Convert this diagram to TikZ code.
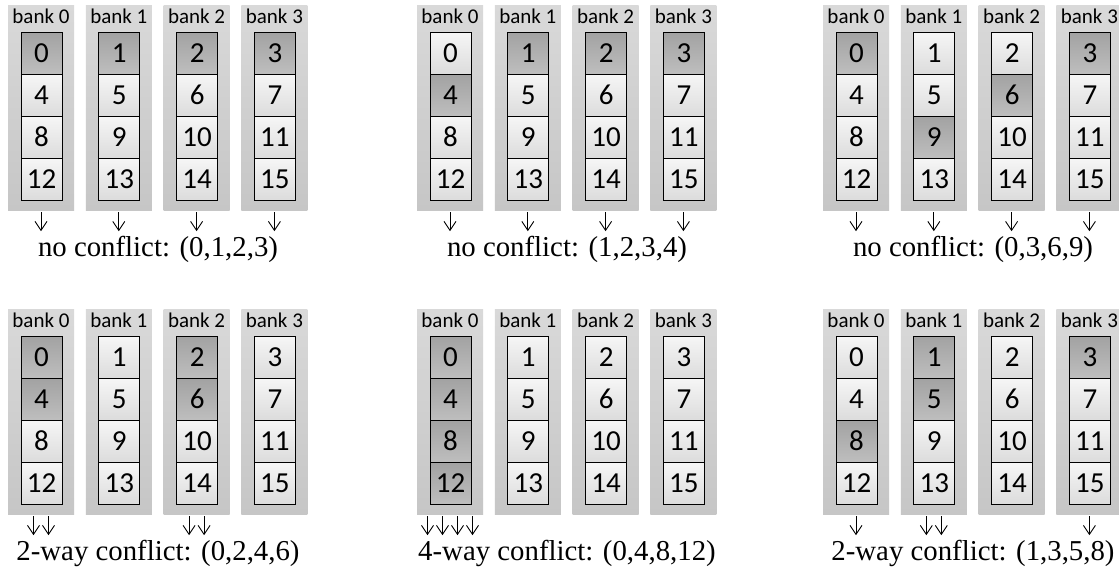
\documentclass[tikz,border=0pt]{standalone}
\usepackage{fontspec}
\setmainfont{Liberation Serif}
\newfontfamily\cellfont{Carlito}
\usetikzlibrary{arrows.meta}

\definecolor{bankTop}{HTML}{D9D9D9}
\definecolor{bankBot}{HTML}{C6C6C6}
\definecolor{cellTop}{HTML}{F6F6F6}
\definecolor{cellBot}{HTML}{DCDCDC}
\definecolor{hotTop}{HTML}{A2A2A2}
\definecolor{hotBot}{HTML}{BEBEBE}

\tikzset{
  bankbg/.style={rectangle, draw=none, inner sep=0pt,
    minimum width=66pt, minimum height=205pt,
    top color=bankTop, bottom color=bankBot},
  banklabel/.style={anchor=base, inner sep=0pt,
    font=\cellfont\fontsize{21}{24}\selectfont},
  cell/.style={rectangle, draw=black, line width=1pt, inner sep=0pt,
    minimum width=41pt, minimum height=42pt,
    font=\cellfont\fontsize{29}{32}\selectfont},
  plain/.style={top color=cellTop, bottom color=cellBot},
  hot/.style={top color=hotTop, bottom color=hotBot},
  access/.style={-{Straight Barb[length=9pt,width=12pt]}, line width=0.9pt},
  caption/.style={anchor=base, inner sep=0pt,
    font=\fontsize{28.8}{32}\selectfont},
}

% \setcelltone{n}{list}: picks the 'hot' style when cell n is in the list
\makeatletter
\newcommand\setcelltone[2]{%
  \edef\@tempa{\noexpand\in@{,#1,}{,#2,}}\@tempa
  \ifin@\def\celltone{hot}\else\def\celltone{plain}\fi}
\makeatother

% \drawpanel{name}{left}{top}{accessed cells}{bank/offset arrows}{caption}
\newcommand\drawpanel[6]{%
  \foreach \b in {0,...,3}{%
    \node[bankbg] (#1-bank\b) at ({#2+77.8*\b+33}, {-(#3+102.5)}) {};
    \node[banklabel] (#1-label\b) at ({#2+77.8*\b+33}, {-(#3+18)}) {bank \b};
    \foreach \r in {0,...,3}{%
      \pgfmathtruncatemacro\n{4*\r+\b}%
      \setcelltone{\n}{#4}%
      \node[cell,\celltone] (#1-c\n) at ({#2+77.8*\b+33.5}, {-(#3+48+42*\r)}) {\n};
    }
  }
  \foreach \b/\o [count=\i] in {#5}{%
    \coordinate (#1-from\i) at ([xshift=\o pt, yshift=-2pt]#1-bank\b.south);
    \coordinate (#1-to\i) at ([xshift=\o pt, yshift=-21pt]#1-bank\b.south);
    \draw[access] (#1-from\i) -- (#1-to\i);
  }
  \node[caption] (#1-cap) at ({#2+150}, {-(#3+251)}) {#6};
}

\begin{document}
\begin{tikzpicture}[x=1pt, y=1pt]
  \useasboundingbox (0,0) rectangle (1119,-571);
  \fill[white] (0,0) rectangle (1119,-571);

  % conflict-free access patterns
  \drawpanel{a}{8}{5}{0,1,2,3}{0/0,1/0,2/0,3/0}{no conflict: (0,1,2,3)}
  \drawpanel{b}{417}{5}{1,2,3,4}{0/0,1/0,2/0,3/0}{no conflict: (1,2,3,4)}
  \drawpanel{c}{823}{5}{0,3,6,9}{0/0,1/0,2/0,3/0}{no conflict: (0,3,6,9)}

  % access patterns with bank conflicts
  \drawpanel{d}{8}{309}{0,2,4,6}{0/-7.5,0/7.5,2/-7.5,2/7.5}{2-way conflict: (0,2,4,6)}
  \drawpanel{e}{417}{309}{0,4,8,12}{0/-22.5,0/-7.5,0/7.5,0/22.5}{4-way conflict: (0,4,8,12)}
  \drawpanel{f}{823}{309}{1,3,5,8}{0/0,1/-7.5,1/7.5,3/0}{2-way conflict: (1,3,5,8)}
\end{tikzpicture}
\end{document}
